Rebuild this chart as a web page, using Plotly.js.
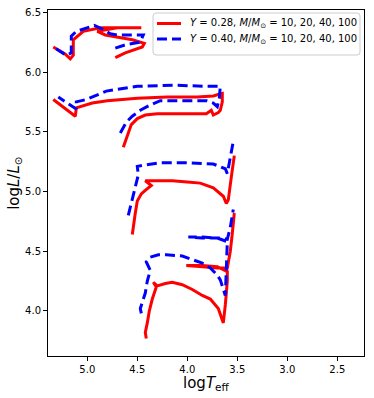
<!DOCTYPE html>
<html>
<head>
<meta charset="utf-8">
<script src="https://cdn.plot.ly/plotly-3.0.1.min.js"></script>
<style>html,body{margin:0;padding:0;background:#fff;}#chart{width:374px;height:398px;}</style>
</head>
<body>
<div id="chart"></div>
<script>
// Y = 0.28 tracks (red, solid)
const red10T = [4.41,4.42,4.40,4.38,4.35,4.31,4.34,4.30,4.22,4.15,4.05,3.95,3.85,3.77,3.69,3.66,3.64,3.62,3.60,3.60,3.70,3.85,4.01,3.85,3.70,3.60,3.57,3.55,3.53];
const red10L = [3.77,3.82,3.90,4.00,4.10,4.20,4.24,4.21,4.23,4.24,4.22,4.18,4.13,4.10,4.02,3.95,3.90,4.05,4.25,4.33,4.37,4.38,4.38,4.37,4.36,4.36,4.50,4.65,4.82];
const red20T = [4.55,4.54,4.52,4.50,4.46,4.42,4.36,4.42,4.31,4.15,4.00,3.87,3.74,3.64,3.61,3.59,3.56,3.53];
const red20L = [4.64,4.72,4.82,4.92,4.98,5.01,5.05,5.09,5.09,5.09,5.08,5.07,5.03,4.96,4.90,4.93,5.12,5.30];
const red40T = [4.64,4.62,4.59,4.56,4.50,4.42,4.30,4.10,3.95,3.81,3.76,3.74,3.69,3.67,3.65,3.65,3.70,3.74,3.90,4.20,4.50,4.80,4.95,5.09,5.11,5.12,5.20,5.34];
const red40L = [5.37,5.42,5.50,5.56,5.61,5.64,5.65,5.65,5.65,5.65,5.68,5.64,5.66,5.68,5.75,5.82,5.81,5.80,5.79,5.79,5.78,5.76,5.74,5.71,5.70,5.63,5.68,5.77];
const red100T = [4.72,4.62,4.45,4.43,4.55,4.70,4.82,4.90,4.70,4.46,4.70,4.87,5.04,5.14,5.14,5.17,5.22,5.34];
const red100L = [6.12,6.16,6.21,6.24,6.27,6.29,6.31,6.34,6.37,6.37,6.37,6.37,6.34,6.27,6.14,6.11,6.15,6.21];

// Y = 0.40 tracks (blue, dashed)
const blue10T = [4.46,4.47,4.44,4.42,4.40,4.37,4.41,4.37,4.29,4.21,4.05,3.94,3.85,3.77,3.70,3.67,3.63,3.62,3.61,3.60,3.60,3.70,3.85,3.99,3.85,3.65,3.60,3.57,3.54];
const blue10L = [3.98,4.02,4.10,4.15,4.25,4.34,4.41,4.45,4.47,4.47,4.46,4.43,4.40,4.36,4.30,4.26,4.17,4.13,4.34,4.50,4.58,4.61,4.62,4.62,4.61,4.61,4.60,4.70,4.85];
const blue20T = [4.59,4.56,4.54,4.51,4.49,4.50,4.44,4.27,4.00,3.74,3.62,3.60,3.56,3.54];
const blue20L = [4.80,4.90,4.98,5.07,5.14,5.21,5.22,5.24,5.24,5.23,5.19,5.15,5.32,5.42];
const blue40T = [4.67,4.64,4.61,4.55,4.47,4.38,4.29,4.27,4.05,3.81,3.74,3.70,3.68,3.67,3.67,3.80,4.14,4.50,4.81,5.01,5.11,5.11,5.29];
const blue40L = [5.49,5.53,5.58,5.63,5.68,5.72,5.75,5.76,5.76,5.76,5.74,5.71,5.78,5.84,5.88,5.88,5.89,5.88,5.84,5.77,5.75,5.69,5.79];
const blue100T = [4.72,4.61,4.47,4.44,4.55,4.70,4.77,4.85,4.93,5.00,5.11,5.16,5.16,5.21,5.34];
const blue100L = [6.20,6.23,6.25,6.31,6.31,6.31,6.32,6.36,6.39,6.37,6.34,6.30,6.16,6.14,6.21];

const xTicks = [5.0,4.5,4.0,3.5,3.0,2.5];
const yTicks = [4.0,4.5,5.0,5.5,6.0,6.5];
const redName = '<i>Y</i> = 0.28, <i>M</i>/<i>M</i><sub>⊙</sub> = 10, 20, 40, 100';
const blueName = '<i>Y</i> = 0.40, <i>M</i>/<i>M</i><sub>⊙</sub> = 10, 20, 40, 100';
const xTitle = 'log<i>T</i><sub>eff</sub>';
const yTitle = 'log<i>L</i>/<i>L</i><sub>⊙</sub>';

const RED = {color: '#ff0000', width: 3};
const BLUE = {color: '#0000ff', width: 3, dash: '10px,5px'};

const tracks = [
  [red10T, red10L, 'r'], [blue10T, blue10L, 'b'],
  [red20T, red20L, 'r'], [blue20T, blue20L, 'b'],
  [red40T, red40L, 'r'], [blue40T, blue40L, 'b'],
  [red100T, red100L, 'r'], [blue100T, blue100L, 'b']
];
const traces = tracks.map(([x, y, c]) => ({
  x: x, y: y, type: 'scatter', mode: 'lines',
  line: c === 'r' ? RED : BLUE,
  name: c === 'r' ? redName : blueName,
  showlegend: false, hoverinfo: 'skip'
}));

// hand-built legend (paper coordinates)
const W = 316, H = 346;
const bx0 = (153 - 48) / W, bx1 = (360 - 48) / W;
const by0 = 1 - (55 - 10) / H, by1 = 1 - (13 - 10) / H;
const rx = 3 / W, ry = 3 / H;
const boxPath = `M ${bx0+rx},${by1} L ${bx1-rx},${by1} Q ${bx1},${by1} ${bx1},${by1-ry} L ${bx1},${by0+ry} Q ${bx1},${by0} ${bx1-rx},${by0} L ${bx0+rx},${by0} Q ${bx0},${by0} ${bx0},${by0+ry} L ${bx0},${by1-ry} Q ${bx0},${by1} ${bx0+rx},${by1} Z`;
const row1 = 1 - (23.5 - 10) / H, row2 = 1 - (39 - 10) / H;
const lx0 = (157 - 48) / W, lx1 = (181 - 48) / W, tx = (188 - 48) / W;

const layout = {
  width: 374, height: 398,
  margin: {l: 48, r: 10, t: 10, b: 42},
  paper_bgcolor: '#fff', plot_bgcolor: '#fff',
  font: {family: 'DejaVu Sans', size: 10, color: '#000'},
  showlegend: false,
  xaxis: {range: [5.393, 2.233], autorange: false, tickvals: xTicks, tickformat: '.1f',
    ticks: 'outside', ticklen: 4, tickcolor: '#000', showline: true, linecolor: '#000', linewidth: 1,
    mirror: true, showgrid: false, zeroline: false},
  yaxis: {range: [3.623, 6.519], autorange: false, tickvals: yTicks, tickformat: '.1f',
    ticks: 'outside', ticklen: 4, tickcolor: '#000', showline: true, linecolor: '#000', linewidth: 1,
    mirror: true, showgrid: false, zeroline: false},
  shapes: [
    {type: 'path', xref: 'paper', yref: 'paper', path: boxPath,
     fillcolor: 'rgba(255,255,255,0.85)', line: {color: '#cccccc', width: 1}},
    {type: 'line', xref: 'paper', yref: 'paper', x0: lx0, x1: lx1, y0: row1, y1: row1, line: RED},
    {type: 'line', xref: 'paper', yref: 'paper', x0: lx0, x1: lx1, y0: row2, y1: row2, line: BLUE}
  ],
  annotations: [
    {text: redName, xref: 'paper', yref: 'paper', x: tx, y: row1, xanchor: 'left', yanchor: 'middle',
     showarrow: false, font: {family: 'DejaVu Sans', size: 10}},
    {text: blueName, xref: 'paper', yref: 'paper', x: tx, y: row2, xanchor: 'left', yanchor: 'middle',
     showarrow: false, font: {family: 'DejaVu Sans', size: 10}},
    {text: xTitle, xref: 'paper', yref: 'paper', x: 0.5, y: -0.08, xanchor: 'center', yanchor: 'middle',
     showarrow: false, font: {family: 'DejaVu Sans', size: 15}},
    {text: yTitle, xref: 'paper', yref: 'paper', x: -0.108, y: 0.5, xanchor: 'center', yanchor: 'middle',
     textangle: -90, showarrow: false, font: {family: 'DejaVu Sans', size: 15}}
  ]
};
Plotly.newPlot('chart', traces, layout, {displayModeBar: false, staticPlot: true});
</script>
</body>
</html>
